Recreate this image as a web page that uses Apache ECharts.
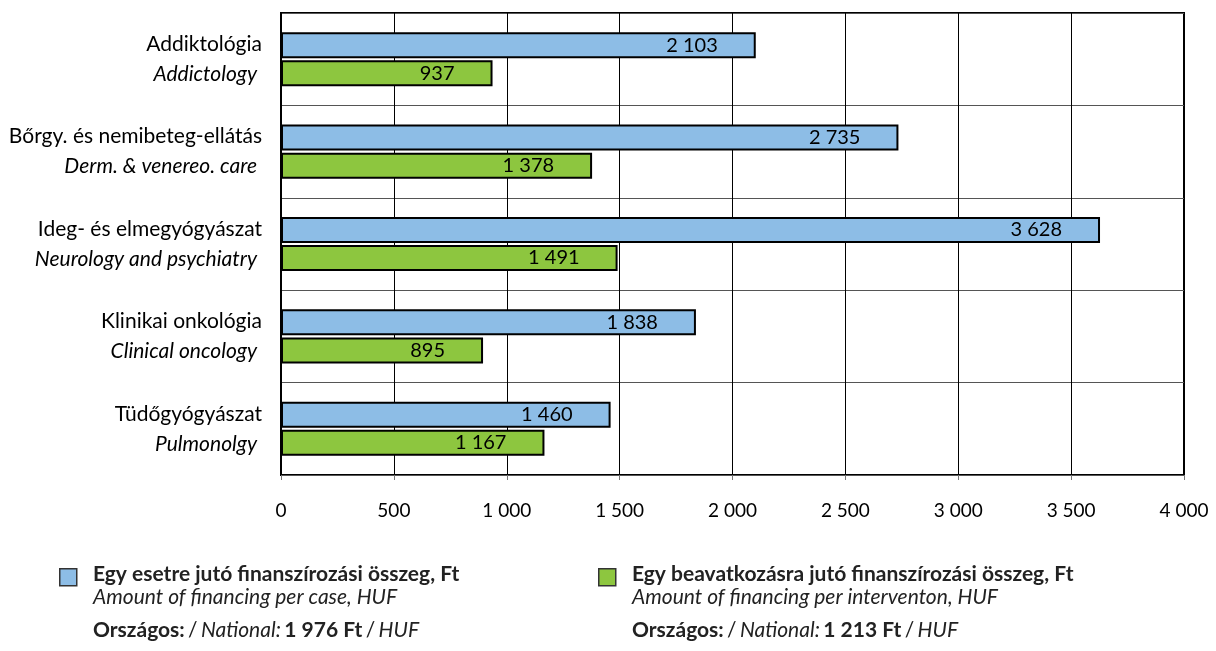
<!DOCTYPE html>
<html><head><meta charset="utf-8">
<script src="https://cdn.jsdelivr.net/npm/echarts@6/dist/echarts.min.js"></script>
<style>html,body{margin:0;padding:0;background:#fff}#c{width:1216px;height:651px}</style>
</head><body><div id="c"></div>
<script>
const categoriesHu = ['Addiktológia','Bőrgy. és nemibeteg-ellátás','Ideg- és elmegyógyászat','Klinikai onkológia','Tüdőgyógyászat'];
const categoriesEn = ['Addictology','Derm. & venereo. care','Neurology and psychiatry','Clinical oncology','Pulmonolgy'];
const perCase = [2103, 2735, 3628, 1838, 1460];
const perIntervention = [937, 1378, 1491, 895, 1167];
const xTicks = {min: 0, max: 4000, interval: 500};
const legendHu = ['Egy esetre jutó finanszírozási összeg, Ft', 'Egy beavatkozásra jutó finanszírozási összeg, Ft'];
const legendEn = ['Amount of financing per case, HUF', 'Amount of financing per interventon, HUF'];
const nationalVals = ['1 976', '1 213'];

const fmt = v => String(v).replace(/\B(?=(\d{3})+(?!\d))/g, ' ');
const BLUE = '#8DBDE6', GREEN = '#8DC63F';
const FONT = 'Lato';

const chart = echarts.init(document.getElementById('c'));
const labelStyle = {show: true, position: 'insideRight', distance: 38, color: '#000', fontFamily: FONT, fontSize: 20, formatter: p => fmt(p.value)};

const legendGraphic = [];
[0, 1].forEach(i => {
  const x0 = i === 0 ? 59 : 598;
  const color = i === 0 ? BLUE : GREEN;
  legendGraphic.push({type: 'rect', left: x0, top: 568, shape: {width: 17, height: 17}, style: {fill: color, stroke: '#333', lineWidth: 1.5}});
  legendGraphic.push({type: 'text', left: x0 + 34, top: 564, style: {text: legendHu[i], font: 'bold 21px "' + FONT + '"', fill: '#222'}});
  legendGraphic.push({type: 'text', left: x0 + 34, top: 587, style: {text: legendEn[i], font: 'italic 21px "' + FONT + '"', fill: '#222'}});
  legendGraphic.push({type: 'text', left: x0 + 34, top: 620, style: {
    text: '{b|Országos:} {n|/} {i|National:} {b|' + nationalVals[i] + ' Ft} {n|/} {i|HUF}',
    rich: {
      b: {font: 'bold 21px "' + FONT + '"', fill: '#222'},
      n: {font: '21px "' + FONT + '"', fill: '#222'},
      i: {font: 'italic 21px "' + FONT + '"', fill: '#222'}
    }
  }});
});

chart.setOption({
  animation: false,
  grid: {left: 281, right: 32, top: 13, bottom: 176, show: true, borderColor: '#000', borderWidth: 2, backgroundColor: 'transparent'},
  xAxis: {
    type: 'value', min: xTicks.min, max: xTicks.max, interval: xTicks.interval,
    axisLine: {show: false},
    axisTick: {show: true, length: 5, lineStyle: {color: '#777'}},
    splitLine: {show: true, lineStyle: {color: '#000', width: 1}},
    axisLabel: {margin: 26, color: '#000', fontFamily: FONT, fontSize: 19, formatter: v => fmt(v)}
  },
  yAxis: {
    type: 'category', inverse: true, data: categoriesHu,
    axisLine: {show: false}, axisTick: {show: false},
    splitLine: {show: true, lineStyle: {color: '#555', width: 1}},
    axisLabel: {
      margin: 19, color: '#000',
      formatter: (v, idx) => '{hu|' + v + '}\n{en|' + categoriesEn[idx] + '}',
      rich: {
        hu: {fontFamily: FONT, fontSize: 21, lineHeight: 30, color: '#000', align: 'right'},
        en: {fontFamily: FONT, fontSize: 21, fontStyle: 'italic', lineHeight: 30, color: '#000', align: 'right', padding: [0, 5, 0, 0]}
      }
    }
  },
  series: [
    {type: 'bar', name: legendHu[0], data: perCase, barWidth: 26, barGap: '8%', itemStyle: {color: BLUE, borderColor: '#000', borderWidth: 2}, label: labelStyle},
    {type: 'bar', name: legendHu[1], data: perIntervention, barWidth: 26, barGap: '8%', itemStyle: {color: GREEN, borderColor: '#000', borderWidth: 2}, label: labelStyle}
  ],
  graphic: legendGraphic
});
</script></body></html>
